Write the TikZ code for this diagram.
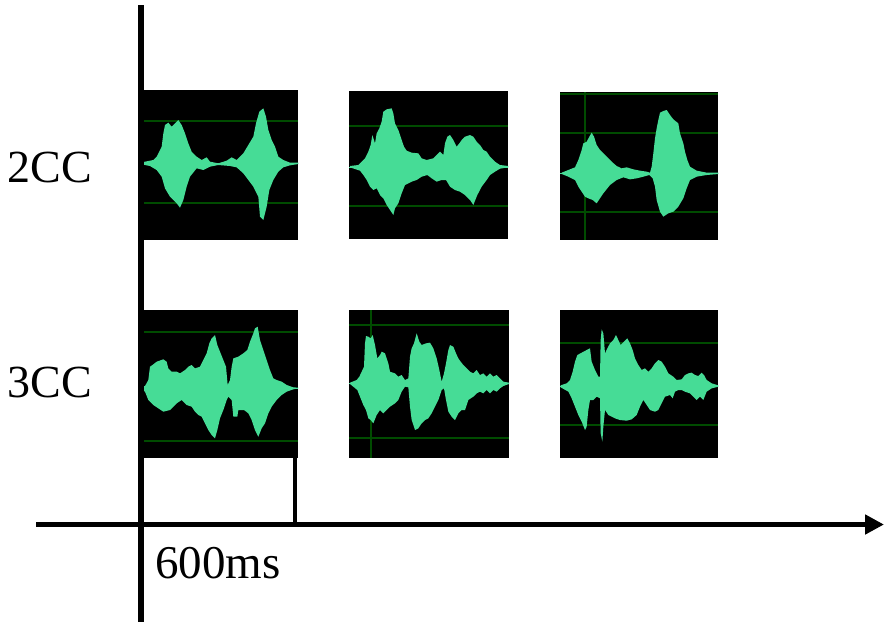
\documentclass[tikz,border=0pt]{standalone}
\usepackage{fontspec}
\setmainfont{Liberation Serif}
\usetikzlibrary{arrows.meta}
\definecolor{wavegreen}{RGB}{70,220,150}
\definecolor{griddark}{RGB}{0,75,0}
\newcommand\wavepoly[3]{\begin{scope}[shift={(#1,#2)},scale=1/3]\fill[wave] #3 -- cycle;\end{scope}}
\begin{document}
\begin{tikzpicture}[x=1pt,y=-1pt,
  panel/.style={fill=black},
  grid/.style={draw=griddark,line width=1.3pt},
  centre/.style={draw=wavegreen,line width=1pt},
  wave/.style={fill=wavegreen},
  axis/.style={line width=6pt},
  haxis/.style={line width=5.5pt,-{Triangle[length=19pt,width=19pt]}},
  lab/.style={inner sep=0pt,font=\fontsize{46}{50}\selectfont}]
\useasboundingbox (0,0) rectangle (893,633);
% panels
\fill[panel] (143,90) rectangle (298,240);
\fill[panel] (349,91) rectangle (508,239);
\fill[panel] (560,92) rectangle (718,240);
\fill[panel] (143,310) rectangle (298,458);
\fill[panel] (349,310) rectangle (509,458);
\fill[panel] (560,310) rectangle (718,458);
% grid lines
\draw[grid] (143,121) -- (298,121); \draw[grid] (143,203) -- (298,203);
\draw[grid] (349,126) -- (508,126); \draw[grid] (349,206) -- (508,206);
\draw[grid] (560,94) -- (718,94); \draw[grid] (560,133) -- (718,133); \draw[grid] (560,212) -- (718,212);
\draw[grid] (585,92) -- (585,240);
\draw[grid] (143,332) -- (298,332); \draw[grid] (143,441) -- (298,441);
\draw[grid] (349,325) -- (509,325); \draw[grid] (349,438) -- (509,438);
\draw[grid] (371,310) -- (371,458);
\draw[grid] (560,343) -- (718,343); \draw[grid] (560,425) -- (718,425);
% centre lines
\draw[centre] (143,163) -- (298,163);
\draw[centre] (349,167) -- (508,167);
\draw[centre] (560,173) -- (718,173);
\draw[centre] (143,388) -- (298,388);
\draw[centre] (349,383) -- (509,383);
\draw[centre] (560,386) -- (718,386);
% waveform 1
\wavepoly{130}{80}{(30,248) -- (70,240) -- (80,230) -- (95,200) -- (100,160) -- (105,135) -- (115,128) -- (125,140) -- (135,130) -- (145,120) -- (155,135) -- (165,160) -- (175,190) -- (185,215) -- (200,230) -- (215,240) -- (230,232) -- (240,245) -- (265,250) -- (290,242) -- (305,232) -- (320,240) -- (340,220) -- (355,195) -- (370,170) -- (378,130) -- (388,95) -- (400,85) -- (408,110) -- (415,150) -- (425,180) -- (435,200) -- (445,230) -- (460,240) -- (480,248) -- (505,248) -- (505,252) -- (480,256) -- (460,262) -- (445,275) -- (430,300) -- (418,330) -- (410,380) -- (400,420) -- (390,410) -- (385,350) -- (370,320) -- (355,300) -- (340,280) -- (320,262) -- (300,258) -- (265,255) -- (240,260) -- (220,270) -- (200,265) -- (180,290) -- (170,320) -- (160,360) -- (150,383) -- (140,370) -- (120,350) -- (105,325) -- (95,290) -- (80,270) -- (60,258) -- (30,252)}
% waveform 2
\wavepoly{340}{80}{(30,258) -- (55,255) -- (65,245) -- (75,235) -- (85,215) -- (92,195) -- (97,165) -- (105,190) -- (110,160) -- (118,145) -- (125,125) -- (130,95) -- (140,88) -- (155,85) -- (160,100) -- (165,130) -- (175,150) -- (185,180) -- (192,200) -- (200,212) -- (215,218) -- (235,220) -- (245,235) -- (260,240) -- (280,235) -- (290,225) -- (300,215) -- (310,225) -- (315,190) -- (322,170) -- (330,165) -- (340,180) -- (350,200) -- (358,190) -- (365,180) -- (375,170) -- (390,165) -- (400,170) -- (410,185) -- (420,195) -- (430,210) -- (440,215) -- (450,230) -- (465,245) -- (480,255) -- (505,258) -- (505,262) -- (480,266) -- (465,275) -- (450,285) -- (440,300) -- (425,320) -- (412,345) -- (400,375) -- (390,360) -- (375,345) -- (360,335) -- (345,330) -- (330,320) -- (318,300) -- (305,300) -- (290,305) -- (275,295) -- (262,285) -- (245,290) -- (230,300) -- (215,305) -- (195,315) -- (185,340) -- (175,370) -- (165,385) -- (160,405) -- (150,390) -- (140,375) -- (130,355) -- (120,345) -- (110,325) -- (100,330) -- (90,320) -- (80,300) -- (70,285) -- (60,272) -- (30,262)}
% waveform 3
\wavepoly{550}{80}{(35,278) -- (55,270) -- (75,262) -- (85,240) -- (95,210) -- (100,190) -- (110,185) -- (118,170) -- (125,158) -- (132,170) -- (140,195) -- (150,210) -- (165,225) -- (175,235) -- (185,245) -- (200,258) -- (215,265) -- (230,262) -- (250,268) -- (270,272) -- (290,275) -- (300,278) -- (305,260) -- (310,220) -- (315,175) -- (320,145) -- (325,120) -- (330,98) -- (340,93) -- (350,90) -- (360,105) -- (370,118) -- (385,130) -- (390,160) -- (400,190) -- (405,215) -- (412,240) -- (420,260) -- (440,272) -- (470,278) -- (505,278) -- (505,282) -- (470,285) -- (440,290) -- (420,300) -- (410,325) -- (400,355) -- (385,380) -- (370,395) -- (355,400) -- (340,410) -- (330,395) -- (320,360) -- (315,320) -- (308,295) -- (298,285) -- (280,290) -- (260,295) -- (240,298) -- (220,292) -- (200,300) -- (180,315) -- (160,340) -- (150,355) -- (140,370) -- (128,360) -- (115,355) -- (105,350) -- (95,335) -- (85,320) -- (75,300) -- (55,290) -- (35,282)}
% waveform 4
\wavepoly{130}{300}{(28,262) -- (45,258) -- (55,240) -- (60,200) -- (70,193) -- (80,185) -- (100,178) -- (110,185) -- (115,205) -- (125,215) -- (140,215) -- (150,220) -- (165,210) -- (175,200) -- (185,195) -- (195,205) -- (210,200) -- (220,180) -- (230,160) -- (238,130) -- (245,115) -- (255,105) -- (262,135) -- (270,155) -- (280,180) -- (288,200) -- (293,255) -- (300,240) -- (305,200) -- (310,175) -- (325,170) -- (340,160) -- (352,150) -- (360,125) -- (370,100) -- (375,85) -- (383,80) -- (390,120) -- (400,150) -- (410,180) -- (420,210) -- (430,235) -- (440,240) -- (455,245) -- (470,255) -- (490,262) -- (505,263) -- (505,265) -- (490,268) -- (470,275) -- (455,285) -- (440,300) -- (425,320) -- (415,340) -- (405,370) -- (395,385) -- (385,410) -- (375,390) -- (365,360) -- (355,340) -- (342,330) -- (325,330) -- (322,350) -- (310,350) -- (305,300) -- (295,290) -- (290,300) -- (280,330) -- (270,355) -- (262,390) -- (255,415) -- (245,405) -- (235,390) -- (225,370) -- (215,350) -- (205,345) -- (195,335) -- (185,320) -- (170,315) -- (155,300) -- (140,310) -- (120,330) -- (100,335) -- (85,325) -- (70,315) -- (55,300) -- (45,275) -- (28,265)}
% waveform 5
\wavepoly{340}{300}{(30,248) -- (50,240) -- (58,230) -- (65,215) -- (72,200) -- (75,130) -- (78,108) -- (85,110) -- (92,115) -- (98,105) -- (105,135) -- (112,175) -- (120,165) -- (125,155) -- (135,160) -- (145,190) -- (150,215) -- (165,220) -- (175,230) -- (185,225) -- (195,240) -- (205,235) -- (210,170) -- (215,145) -- (222,130) -- (230,100) -- (238,125) -- (245,135) -- (258,130) -- (270,128) -- (280,145) -- (290,175) -- (298,210) -- (305,245) -- (312,220) -- (318,190) -- (325,150) -- (330,135) -- (340,140) -- (348,160) -- (355,175) -- (362,185) -- (370,195) -- (380,205) -- (390,215) -- (400,220) -- (410,210) -- (420,225) -- (430,220) -- (440,230) -- (450,220) -- (460,230) -- (470,225) -- (480,235) -- (490,245) -- (507,248) -- (507,252) -- (490,258) -- (480,265) -- (470,275) -- (460,270) -- (450,280) -- (440,270) -- (430,280) -- (420,275) -- (410,280) -- (400,290) -- (385,300) -- (375,330) -- (365,330) -- (355,340) -- (345,360) -- (335,350) -- (325,335) -- (318,300) -- (312,265) -- (305,270) -- (295,300) -- (285,320) -- (275,340) -- (265,355) -- (255,360) -- (245,370) -- (235,385) -- (225,390) -- (215,360) -- (210,320) -- (205,262) -- (195,260) -- (185,275) -- (175,300) -- (165,310) -- (150,320) -- (140,330) -- (130,340) -- (120,330) -- (110,345) -- (100,370) -- (92,360) -- (85,355) -- (78,330) -- (70,315) -- (60,290) -- (52,270) -- (30,252)}
% waveform 6
\wavepoly{550}{300}{(32,256) -- (50,250) -- (60,240) -- (68,215) -- (75,185) -- (82,165) -- (95,158) -- (110,150) -- (120,145) -- (125,185) -- (135,210) -- (145,230) -- (150,230) -- (152,120) -- (155,88) -- (160,100) -- (165,160) -- (172,145) -- (180,130) -- (190,120) -- (198,105) -- (205,120) -- (212,135) -- (222,125) -- (232,115) -- (240,130) -- (248,150) -- (255,175) -- (265,195) -- (275,210) -- (285,205) -- (295,215) -- (305,205) -- (315,190) -- (325,180) -- (335,185) -- (345,200) -- (355,220) -- (370,230) -- (380,240) -- (395,238) -- (405,225) -- (415,220) -- (425,218) -- (435,225) -- (445,228) -- (455,218) -- (462,225) -- (470,240) -- (485,250) -- (505,256) -- (505,260) -- (485,265) -- (470,275) -- (460,300) -- (450,290) -- (440,300) -- (430,290) -- (420,280) -- (405,275) -- (395,270) -- (385,270) -- (375,275) -- (368,295) -- (360,285) -- (345,290) -- (335,310) -- (325,330) -- (315,335) -- (300,330) -- (290,315) -- (280,300) -- (270,320) -- (260,345) -- (245,358) -- (230,362) -- (210,360) -- (195,355) -- (185,350) -- (175,345) -- (165,330) -- (160,380) -- (157,425) -- (152,400) -- (150,295) -- (140,290) -- (130,300) -- (120,300) -- (115,330) -- (110,380) -- (105,390) -- (95,365) -- (85,345) -- (75,320) -- (65,295) -- (55,275) -- (32,262)}
% axes
\coordinate (vtop) at (141,5);
\coordinate (vbot) at (141,622);
\coordinate (hl) at (36,524.5);
\coordinate (hr) at (884,524.5);
\coordinate (boxtop) at (295,458);
\coordinate (boxbot) at (295,524.5);
\draw[line width=4.5pt] (boxtop) -- (boxbot);
\draw[axis] (vtop) -- (vbot);
\draw[haxis] (hl) -- (hr);
% labels
\node[lab,anchor=base east] (l2) at (92,182) {2CC};
\node[lab,anchor=base east] (l3) at (92,397) {3CC};
\node[lab,anchor=base west,font=\fontsize{47}{50}\selectfont] (ms) at (155,578) {600ms};
\end{tikzpicture}
\end{document}
